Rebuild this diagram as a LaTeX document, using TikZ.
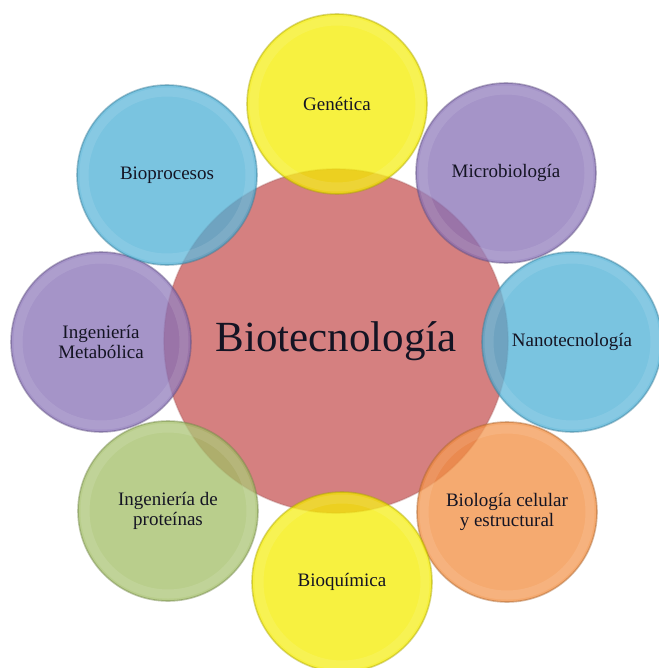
\documentclass[tikz,border=0pt]{standalone}
\usepackage{fontspec}
\setmainfont{Liberation Serif}
\definecolor{cred}{RGB}{213,128,128}
\definecolor{cyel}{RGB}{244,236,0}
\definecolor{cblu}{RGB}{78,176,214}
\definecolor{cpur}{RGB}{135,112,182}
\definecolor{cgrn}{RGB}{162,190,102}
\definecolor{cora}{RGB}{242,142,64}
\definecolor{ctxt}{RGB}{20,20,35}
\newcommand\lblfont{\fontsize{19}{20}\selectfont}
\newcommand\bigfont{\fontsize{43}{48}\selectfont}
\tikzset{
  bub/.style={circle, minimum size=180, inner sep=0pt, fill=#1, fill opacity=0.75,
    draw=#1!70!black, draw opacity=0.45, line width=1.6pt, text opacity=1,
    font=\lblfont, align=center, text=ctxt,
    path picture={\draw[white, draw opacity=0.1, line width=9pt]
      (path picture bounding box.center) circle (83);}},
  hub/.style={circle, minimum size=344, inner sep=0pt, fill=cred,
    draw=cred!80!black, draw opacity=0.35, line width=1.6pt,
    font=\bigfont, text=ctxt},
}
\begin{document}
\begin{tikzpicture}[x=1pt,y=-1pt]
\useasboundingbox (0,0) rectangle (658,668);
\node[hub] (bio) at (336,341) {Biotecnología};
\node[bub=cyel] (gen) at (337,104) {Genética};
\node[bub=cpur] (mic) at (506,173) {Microbiología};
\node[bub=cblu] (nan) at (572,342) {Nanotecnología};
\node[bub=cora] (cel) at (507,512) {Biología celular\\y estructural};
\node[bub=cyel] (bq) at (342,582) {Bioquímica};
\node[bub=cgrn] (pro) at (168,511) {Ingeniería de\\proteínas};
\node[bub=cpur] (met) at (101,342) {Ingeniería\\Metabólica};
\node[bub=cblu] (bpr) at (167,175) {Bioprocesos};
\end{tikzpicture}
\end{document}
